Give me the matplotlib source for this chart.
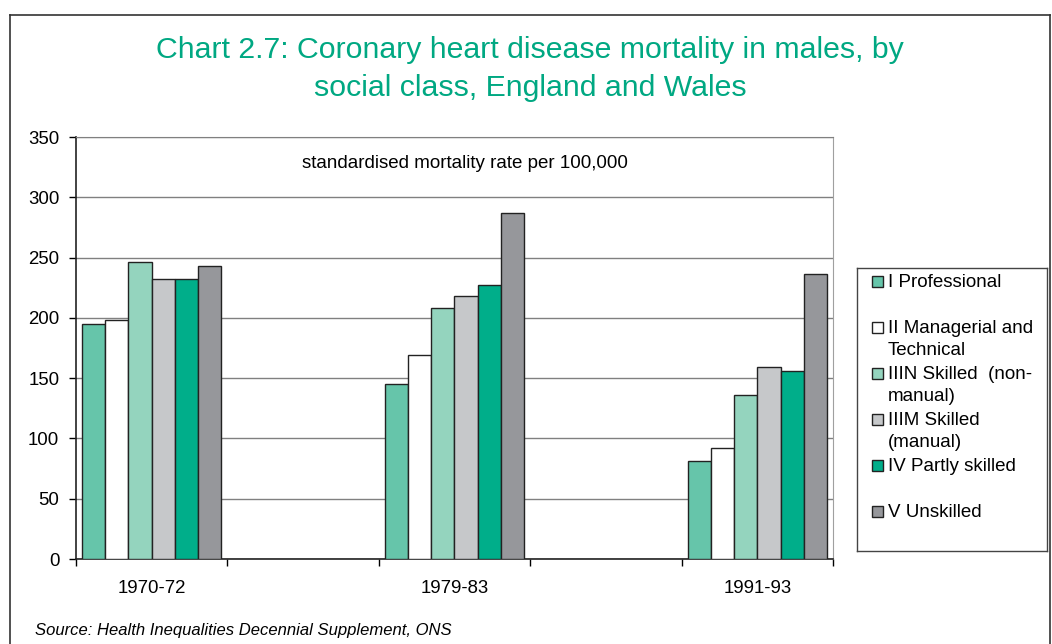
import numpy as np
import matplotlib.pyplot as plt
from matplotlib.patches import Rectangle

plt.rcParams['font.family'] = ['Liberation Sans', 'DejaVu Sans']

periods = ["1970-72", "1979-83", "1991-93"]
classes = ["I Professional", "II Managerial and\nTechnical", "IIIN Skilled  (non-\nmanual)",
           "IIIM Skilled\n(manual)", "IV Partly skilled", "V Unskilled"]
prof = [195, 145, 81]
manag = [198, 169, 92]
skilled_nm = [246, 208, 136]
skilled_m = [232, 218, 159]
partly = [232, 227, 156]
unskilled = [243, 287, 236]
values = [prof, manag, skilled_nm, skilled_m, partly, unskilled]
colors = ["#66c5aa", "#ffffff", "#94d4be", "#c6c8ca", "#00ae8a", "#96979b"]

fig = plt.figure(figsize=(10.52, 6.44), dpi=100)
W, H = 1052, 644

# outer frame
fig.add_artist(plt.Line2D([10/W, 10/W], [0, 1-15/H], color="#333333", lw=1.2, transform=fig.transFigure))
fig.add_artist(plt.Line2D([10/W, 1050/W], [1-15/H, 1-15/H], color="#333333", lw=1.2, transform=fig.transFigure))
fig.add_artist(plt.Line2D([1050/W, 1050/W], [0, 1-15/H], color="#333333", lw=1.2, transform=fig.transFigure))

ax = fig.add_axes([76/W, 1-559/H, (833-76)/W, (559-137)/H])

# 5 category slots, data in slots 0, 2, 4
centers = np.array([0.5, 2.5, 4.5])
bw = 0.92/6
for i, (v, c) in enumerate(zip(values, colors)):
    ax.bar(centers - 0.46 + bw*(i+0.5), v, bw, color=c, edgecolor="#222222", linewidth=1, zorder=3)

ax.set_xlim(0, 5)
ax.set_ylim(0, 350)
ax.set_yticks(np.arange(0, 351, 50))
ax.yaxis.grid(True, color="#808080", linewidth=1, zorder=0)
ax.set_xticks(np.arange(0, 6))
ax.set_xticklabels([])
ax.set_xticks(centers, minor=True)
ax.set_xticklabels(periods, minor=True, fontsize=13.4)
ax.tick_params(axis="x", which="minor", length=0, pad=15)
ax.tick_params(axis="x", which="major", length=5, width=1, direction="out")
ax.tick_params(axis="y", length=5, width=1, labelsize=13.4, pad=7)
for s in ["left", "bottom"]:
    ax.spines[s].set_color("#222222")
    ax.spines[s].set_linewidth(1.2)
ax.spines["right"].set_color("#a0a0a0")
ax.spines["top"].set_color("#808080")

ax.text(0.514, 0.938, "standardised mortality rate per 100,000", transform=ax.transAxes,
        ha="center", va="center", fontsize=13.5)

fig.text(530/W, 1-50/H, "Chart 2.7: Coronary heart disease mortality in males, by",
         ha="center", va="center", fontsize=21.8, color="#00a882")
fig.text(530/W, 1-88/H, "social class, England and Wales",
         ha="center", va="center", fontsize=21.8, color="#00a882")

fig.text(35/W, 1-630/H, "Source: Health Inequalities Decennial Supplement, ONS",
         ha="left", va="center", fontsize=12, style="italic")

# legend box
lax = fig.add_axes([857/W, 1-551/H, 190/W, 283/H])
lax.set_xlim(0, 190)
lax.set_ylim(283, 0)
lax.set_xticks([])
lax.set_yticks([])
for s in lax.spines.values():
    s.set_color("#444444")
    s.set_linewidth(1)
for i, (lab, c) in enumerate(zip(classes, colors)):
    y = 13 + 46*i
    lax.add_patch(Rectangle((15, y-5), 11, 11, facecolor=c, edgecolor="#222222", linewidth=1))
    lax.text(31, y-7, lab, ha="left", va="top", fontsize=13.5, linespacing=1.4)

fig.savefig("out.png", dpi=100)
